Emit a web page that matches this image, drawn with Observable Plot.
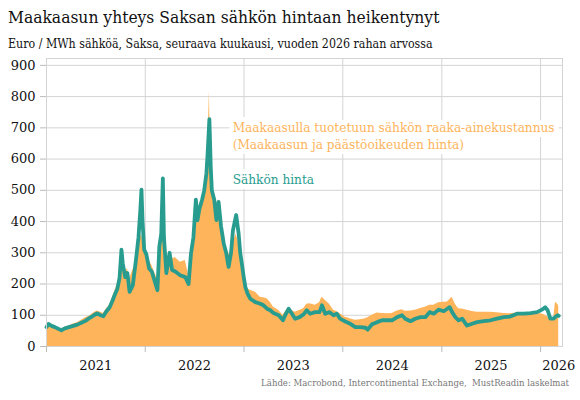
<!DOCTYPE html>
<html>
<head>
<meta charset="utf-8">
<script src="https://cdn.jsdelivr.net/npm/d3@7"></script>
<script src="https://cdn.jsdelivr.net/npm/@observablehq/plot@0.6"></script>
<style>
  html, body { margin: 0; padding: 0; background: #fff; }
  body { width: 580px; height: 400px; position: relative; overflow: hidden;
         font-family: "DejaVu Serif Condensed", "DejaVu Serif", serif; font-stretch: condensed; }
  #title { position: absolute; left: 8px; top: 7px; font-size: 17.3px; color: #111; white-space: nowrap; }
  #subtitle { position: absolute; left: 8px; top: 37px; font-size: 12.3px; color: #111; white-space: nowrap; }
  #chart { position: absolute; left: 0; top: 50px; font-stretch: normal; }
  #source { position: absolute; right: 11px; top: 377px; font-size: 9.5px; color: #777; white-space: nowrap; }
</style>
</head>
<body>
<div id="title">Maakaasun yhteys Saksan sähkön hintaan heikentynyt</div>
<div id="subtitle">Euro / MWh sähköä, Saksa, seuraava kuukausi, vuoden 2026 rahan arvossa</div>
<div id="chart"></div>
<div id="source">Lähde: Macrobond, Intercontinental Exchange,&nbsp; MustReadin laskelmat</div>
<script>
// ---- data ----
const dates = [
  "2021-01-01","2021-01-08","2021-01-20","2021-02-01","2021-02-15","2021-02-25","2021-03-10","2021-03-25",
  "2021-04-10","2021-04-25","2021-05-10","2021-05-25","2021-06-10","2021-06-25","2021-07-07","2021-07-20",
  "2021-07-30","2021-08-10","2021-08-22","2021-09-01","2021-09-10","2021-09-20","2021-09-28","2021-10-05",
  "2021-10-10","2021-10-19","2021-10-27","2021-11-04","2021-11-16","2021-11-28","2021-12-07","2021-12-14",
  "2021-12-18","2021-12-22","2021-12-28",
  "2022-01-05","2022-01-15","2022-01-25","2022-02-03","2022-02-15","2022-02-22","2022-03-01","2022-03-07",
  "2022-03-11","2022-03-20","2022-04-01","2022-04-10","2022-04-22","2022-05-10","2022-05-29","2022-06-10",
  "2022-06-19","2022-06-28","2022-07-07","2022-07-13","2022-07-20","2022-07-30","2022-08-07","2022-08-15",
  "2022-08-19","2022-08-26","2022-08-31","2022-09-04","2022-09-13","2022-09-21","2022-09-29","2022-10-08",
  "2022-10-18","2022-10-27","2022-11-05","2022-11-14","2022-11-21","2022-12-03","2022-12-12","2022-12-18",
  "2022-12-24","2022-12-31",
  "2023-01-06","2023-01-14","2023-01-24","2023-02-12","2023-03-02","2023-03-14","2023-03-27","2023-04-08",
  "2023-04-20","2023-05-09","2023-05-25","2023-06-02","2023-06-15","2023-06-27","2023-07-09","2023-07-25",
  "2023-08-09","2023-08-21","2023-09-02","2023-09-21","2023-10-07","2023-10-16","2023-10-28","2023-11-13",
  "2023-11-28","2023-12-10","2023-12-22",
  "2024-01-10","2024-01-28","2024-02-16","2024-03-06","2024-03-25","2024-04-02","2024-04-18","2024-05-07",
  "2024-05-25","2024-06-13","2024-07-01","2024-07-20","2024-08-07","2024-08-19","2024-09-07","2024-09-25",
  "2024-10-14","2024-11-01","2024-11-17","2024-12-02","2024-12-20",
  "2025-01-08","2025-01-20","2025-01-30","2025-02-08","2025-02-20","2025-03-04","2025-03-17","2025-04-04",
  "2025-04-23","2025-05-11","2025-06-05","2025-06-30","2025-07-24","2025-08-18","2025-09-11","2025-10-06",
  "2025-10-31","2025-11-25","2025-12-19",
  "2026-01-06","2026-01-18","2026-01-27","2026-02-06","2026-02-18","2026-02-25","2026-03-05","2026-03-09"
];
// Sähkön hinta (electricity price)
const price = [
  62,72,66,62,56,52,58,62, 66,70,76,82,92,100,106,100, 97,112,125,145,165,185,220,310, 265,222,235,175,196,280,350,440, 502,400,310,
  295,250,240,215,180,320,360,538, 350,235,300,245,240,228,222,200, 298,350,470,404,440,470,500,555, 610,728,575,500,470,405,463,385, 330,300,255,300,372,421,362,300, 265,222,
  190,169,153,142,137,132,121,116, 107,100,84,100,121,105,89,94, 103,116,105,110,110,132,105,110, 100,105,89,
  80,73,62,62,60,54,71,78, 84,84,84,94,100,89,81,89, 94,94,110,105,118,
  113,120,126,110,94,84,89,67, 73,78,81,84,89,94,96,105, 105,107,110,
  118,126,116,89,89,95,100,98
];
// Maakaasulla tuotetun sähkön raaka-ainekustannus (cost)
const cost = [
  58,66,64,62,58,56,62,66, 72,76,84,92,98,108,114,110, 106,120,132,155,175,200,225,255, 250,235,250,215,245,265,320,350, 360,340,300,
  305,275,260,240,215,260,330,380, 340,270,295,280,285,270,275,230, 295,340,440,400,430,460,490,540, 600,816,560,510,480,450,470,400, 350,320,295,300,330,360,330,290, 260,235,
  195,185,180,174,158,156,153,142, 126,116,100,110,126,115,110,115, 121,135,137,132,140,158,148,135, 116,112,105,
  94,89,84,86,89,92,100,107, 106,105,106,114,118,113,114,116, 122,126,132,132,140,
  142,142,150,158,135,121,120,116, 112,110,110,110,108,106,105,107, 107,107,106,
  104,100,95,84,84,142,135,130
];
const yTicks = [0,100,200,300,400,500,600,700,800,900];
const yearTicks = ["2021-01-01","2022-01-01","2023-01-01","2024-01-01","2025-01-01","2026-01-01"];
const yearLabelDates = ["2021-07-02","2022-07-02","2023-07-02","2024-07-02","2025-07-02","2026-03-09"];
const yearLabels = ["2021","2022","2023","2024","2025","2026"];
const legendCost = ["Maakaasulla tuotetuun sähkön raaka-ainekustannus", "(Maakaasun ja päästöoikeuden hinta)"];
const legendPrice = ["Sähkön hinta"];

// ---- build ----
const rows = dates.map((d, i) => ({date: new Date(d), price: price[i], cost: cost[i]}));
const yearTickDates = yearTicks.map(d => new Date(d));
const yearLabelRows = yearLabelDates.map((d, i) => ({date: new Date(d), label: yearLabels[i]}));
const ORANGE = "#fdb45b";
const TEAL = "#289c8f";
const GRID = "#d4d4d4";
const FONT = '"DejaVu Serif", serif';
const COND = '"DejaVu Serif Condensed", "DejaVu Serif", serif';

const chart = Plot.plot({
  width: 580,
  height: 328,
  marginTop: 8,
  marginBottom: 32,
  marginLeft: 46,
  marginRight: 18,
  style: {fontFamily: FONT, fontSize: "13px", color: "#111", background: "white"},
  x: {type: "utc", domain: [new Date("2021-01-01"), new Date("2026-03-23")]},
  y: {domain: [0, 922]},
  marks: [
    Plot.gridY(yTicks, {stroke: GRID, strokeOpacity: 1}),
    Plot.gridX(yearTickDates, {stroke: GRID, strokeOpacity: 1}),
    Plot.areaY(rows, {x: "date", y: "cost", fill: ORANGE, curve: "linear"}),
    Plot.lineY(rows, {x: "date", y: "price", stroke: TEAL, strokeWidth: 3.8, strokeLinejoin: "round", curve: "linear"}),
    Plot.frame({stroke: GRID}),
    Plot.axisY(yTicks, {tickSize: 6, tickPadding: 5, stroke: "#bbb", fontSize: 13, label: null, tickFormat: d => String(d)}),
    Plot.axisX(yearTickDates, {tickSize: 6, stroke: "#bbb", tickFormat: () => "", label: null}),
    Plot.text(yearLabelRows, {x: "date", y: 0, text: "label", dy: 19, fontSize: 13, fill: "#111"}),
    Plot.text([legendCost.join("\n")], {x: new Date("2022-11-20"), y: 676, text: d => d, textAnchor: "start", lineAnchor: "middle", lineHeight: 1.2, fill: ORANGE, fontSize: 13.5, fontFamily: COND, stroke: "white", strokeWidth: 10, paintOrder: "stroke"}),
    Plot.text(legendPrice, {x: new Date("2022-11-20"), y: 535, text: d => d, textAnchor: "start", lineAnchor: "middle", fill: TEAL, fontSize: 13.5, fontFamily: COND, stroke: "white", strokeWidth: 10, paintOrder: "stroke"})
  ]
});
document.getElementById("chart").appendChild(chart);
</script>
</body>
</html>
